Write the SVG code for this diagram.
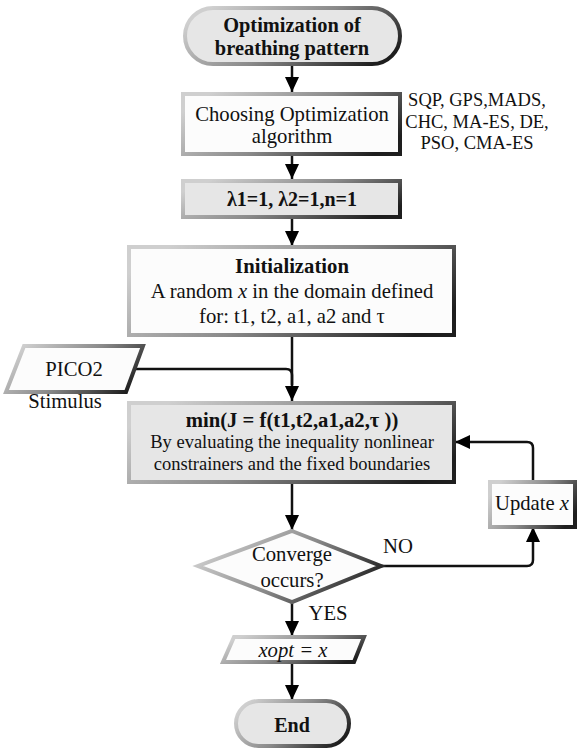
<svg xmlns="http://www.w3.org/2000/svg" width="577" height="748" viewBox="0 0 577 748">
<defs>
<linearGradient id="edge" x1="0" y1="0.3" x2="1" y2="0.7">
<stop offset="0" stop-color="#cfcfcf"/>
<stop offset="0.5" stop-color="#8a8a8a"/>
<stop offset="1" stop-color="#1e1e1e"/>
</linearGradient>
<marker id="ah" markerUnits="userSpaceOnUse" markerWidth="16" markerHeight="16" refX="15" refY="7" orient="auto">
<path d="M0,0 L15,7 L0,14 z" fill="#000"/>
</marker>
<style>
.shape{stroke:url(#edge);stroke-width:4}
.grey{fill:#e6e6e6}
.white{fill:#fcfcfc}
text{font-family:"Liberation Serif","Times New Roman",serif;fill:#111;text-anchor:middle;font-size:20.7px}
.b{font-weight:bold}
.s{font-size:18.5px}
.it{font-style:italic}
.con{fill:none;stroke:#111;stroke-width:2.5}
</style>
</defs>
<rect width="577" height="748" fill="#fff"/>
<g id="connectors">
<path class="con" d="M292,64 V92" marker-end="url(#ah)"/>
<path class="con" d="M292,154 V179" marker-end="url(#ah)"/>
<path class="con" d="M292,217 V246" marker-end="url(#ah)"/>
<path class="con" d="M292,335 V401" marker-end="url(#ah)"/>
<path class="con" d="M134,369 H286 Q292,369 292,375 V385"/>
<path class="con" d="M292,482 V530" marker-end="url(#ah)"/>
<path class="con" d="M381,566 H527 Q533,566 533,560 V527" marker-end="url(#ah)"/>
<path class="con" d="M533,481 V448 Q533,442 527,442 H455" marker-end="url(#ah)"/>
<path class="con" d="M292,602 V636" marker-end="url(#ah)"/>
<path class="con" d="M292,662 V700" marker-end="url(#ah)"/>
</g>
<g id="start">
<rect class="shape grey" x="185" y="8" width="215" height="56" rx="28"/>
<text class="b" x="292" y="32" style="font-size:20.4px">Optimization of</text>
<text class="b" x="292" y="55" style="font-size:20.4px">breathing pattern</text>
</g>
<g id="choose">
<rect class="shape white" x="183" y="94" width="217" height="60"/>
<text x="292" y="121">Choosing Optimization</text>
<text x="292" y="143">algorithm</text>
</g>
<g id="algorithms">
<text class="s" x="477" y="106">SQP, GPS,MADS,</text>
<text class="s" x="477" y="128">CHC, MA-ES, DE,</text>
<text class="s" x="477" y="149">PSO, CMA-ES</text>
</g>
<g id="lambda">
<rect class="shape grey" x="183" y="181" width="217" height="36"/>
<text class="b" x="292" y="206" style="font-size:20px">λ1=1, λ2=1,n=1</text>
</g>
<g id="init">
<rect class="shape white" x="129" y="247" width="325" height="88"/>
<text class="b" x="292" y="273">Initialization</text>
<text x="292" y="298">A random <tspan class="it">x</tspan> in the domain defined</text>
<text x="292" y="323">for: t1, t2, a1, a2 and τ</text>
</g>
<g id="pico2">
<path class="shape white" d="M24,346 H143 L126,392 H6 Z"/>
<text x="74" y="376">PICO2</text>
<text x="65" y="408">Stimulus</text>
</g>
<g id="minimize">
<rect class="shape grey" x="129" y="403" width="325" height="79"/>
<text class="b" x="292" y="427">min(J = f(t1,t2,a1,a2,τ ))</text>
<text class="s" x="292" y="448">By evaluating the inequality nonlinear</text>
<text class="s" x="292" y="470">constrainers and the fixed boundaries</text>
</g>
<g id="update">
<rect class="shape white" x="490" y="482" width="85" height="45"/>
<text x="532" y="510">Update <tspan class="it">x</tspan></text>
</g>
<g id="converge">
<path class="shape white" d="M292,531 L381,566 L292,602 L198,566 Z"/>
<text x="292" y="561">Converge</text>
<text x="292" y="587">occurs?</text>
</g>
<g id="labels">
<text x="398" y="553">NO</text>
<text x="328" y="620">YES</text>
</g>
<g id="xopt">
<path class="shape white" d="M234,637 H364 L354,662 H223 Z"/>
<text class="it" x="293" y="657">xopt = x</text>
</g>
<g id="end">
<rect class="shape grey" x="236" y="701" width="113" height="45" rx="22.5"/>
<text class="b" x="292" y="732" style="font-size:20px">End</text>
</g>
</svg>
